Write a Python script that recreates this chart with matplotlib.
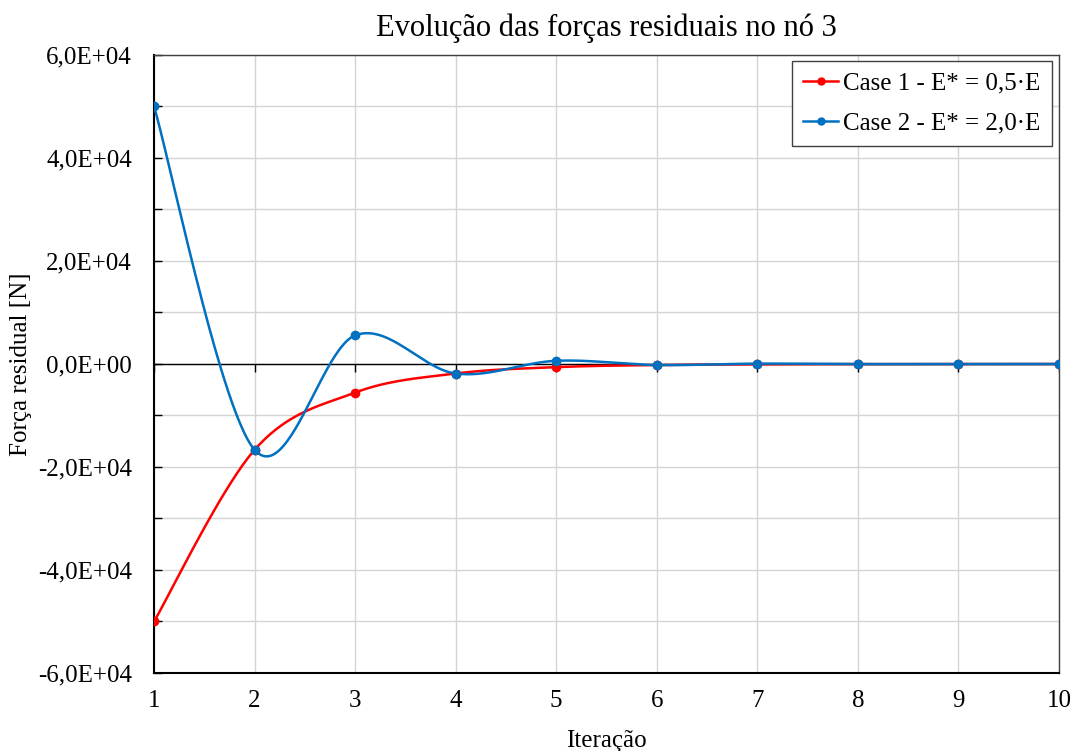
import numpy as np
import matplotlib
matplotlib.use("Agg")
import matplotlib.pyplot as plt
from matplotlib.ticker import MultipleLocator, FixedLocator
from matplotlib.markers import TICKDOWN

iterations = [1, 2, 3, 4, 5, 6, 7, 8, 9, 10]
case1 = [-50000, -16667, -5556, -1852, -617, -206, -69, -23, -8, -3]
case2 = [50000, -16667, 5556, -1852, 617, -206, 69, -23, 8, -3]
labels = ["Case 1 - E* = 0,5·E", "Case 2 - E* = 2,0·E"]
colors = ["#FF0000", "#0070C0"]
yticks = [-60000, -40000, -20000, 0, 20000, 40000, 60000]
yticklabels = ["-6,0E+04", "-4,0E+04", "-2,0E+04", "0,0E+00", "2,0E+04", "4,0E+04", "6,0E+04"]

plt.rcParams['font.family'] = ['Liberation Serif', 'DejaVu Serif']


def excel_smooth(x, y, n=60):
    x = np.asarray(x, float)
    y = np.asarray(y, float)
    px = np.concatenate([[x[0]], x, [x[-1]]])
    py = np.concatenate([[y[0]], y, [y[-1]]])
    t = np.linspace(0, 1, n)
    xs, ys = [], []
    for i in range(1, len(px) - 2):
        p0x, p1x, p2x, p3x = px[i - 1], px[i], px[i + 1], px[i + 2]
        p0y, p1y, p2y, p3y = py[i - 1], py[i], py[i + 1], py[i + 2]
        c1x = p1x + (p2x - p0x) / 6
        c1y = p1y + (p2y - p0y) / 6
        c2x = p2x - (p3x - p1x) / 6
        c2y = p2y - (p3y - p1y) / 6
        b0 = (1 - t) ** 3
        b1 = 3 * (1 - t) ** 2 * t
        b2 = 3 * (1 - t) * t ** 2
        b3 = t ** 3
        xs.append(b0 * p1x + b1 * c1x + b2 * c2x + b3 * p2x)
        ys.append(b0 * p1y + b1 * c1y + b2 * c2y + b3 * p2y)
    return np.concatenate(xs), np.concatenate(ys)


fig = plt.figure(figsize=(10.75, 7.51), dpi=100)
ax = fig.add_axes([0.1433, 0.1039, 0.9851 - 0.1433, 0.9268 - 0.1039])
ax.set_axisbelow(True)

ax.set_xlim(1, 10)
ax.set_ylim(-60000, 60000)
ax.xaxis.set_major_locator(FixedLocator(iterations))
ax.set_xticklabels([str(i) for i in iterations])
ax.yaxis.set_major_locator(FixedLocator(yticks))
ax.set_yticklabels(yticklabels)
ax.yaxis.set_minor_locator(MultipleLocator(10000))

ax.grid(True, which='both', axis='y', color='#d4d4d4', linewidth=1.0)
ax.grid(True, which='major', axis='x', color='#d4d4d4', linewidth=1.0)

# horizontal zero axis line with its tick marks
ax.axhline(0, color='black', linewidth=1.0, zorder=2)
ax.plot(iterations, [0] * len(iterations), linestyle='none', marker=TICKDOWN,
        markersize=6, markeredgewidth=1.0, color='black', zorder=2)

for vals, lab, col in zip([case1, case2], labels, colors):
    sx, sy = excel_smooth(iterations, vals)
    ax.plot(sx, sy, color=col, linewidth=1.8, zorder=3)
    ax.plot(iterations, vals, 'o', color=col, markersize=6, zorder=4)
    ax.plot([], [], '-o', color=col, linewidth=1.8, markersize=5, label=lab)

ax.tick_params(axis='y', which='both', direction='in', length=6, width=1,
               labelsize=18, pad=16)
ax.tick_params(axis='x', which='both', length=0, labelsize=18, pad=12)

for s in ['left', 'bottom']:
    ax.spines[s].set_color('black')
    ax.spines[s].set_linewidth(1.5)
for s in ['top', 'right']:
    ax.spines[s].set_color('#404040')
    ax.spines[s].set_linewidth(1.0)

ax.set_title("Evolução das forças residuais no nó 3", fontsize=22, pad=14)
ax.set_xlabel("Iteração", fontsize=18, labelpad=13)
ax.set_ylabel("Força residual [N]", fontsize=18, labelpad=4)

leg = ax.legend(loc='upper right', fontsize=18, frameon=True, fancybox=False,
                edgecolor='#404040', framealpha=1, handlelength=1.4,
                handletextpad=0.2, borderpad=0.45, labelspacing=0.7,
                borderaxespad=0.0, bbox_to_anchor=(0.992, 0.99))
leg.get_frame().set_linewidth(1.0)

fig.savefig("out.png", dpi=100)
